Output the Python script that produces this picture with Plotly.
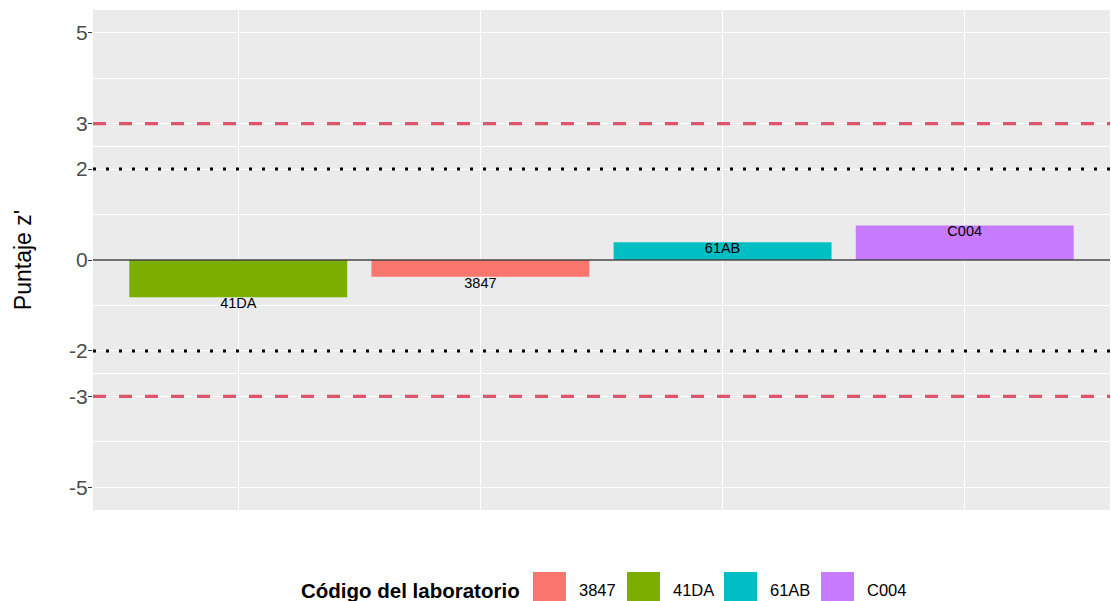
import plotly.graph_objects as go

# ---- data ----
labs = ["41DA", "3847", "61AB", "C004"]
zscores = [-0.82, -0.37, 0.39, 0.76]
legend_order = ["3847", "41DA", "61AB", "C004"]
lab_colors = {"3847": "#F8766D", "41DA": "#7CAE00", "61AB": "#00BFC4", "C004": "#C77CFF"}
y_ticks = [-5, -3, -2, 0, 2, 3, 5]
y_minor = [-4, -2.5, -1, 1, 2.5, 4]
warn_lims = [-2, 2]
action_lims = [-3, 3]
zero_line = [0]
legend_title = "Código del laboratorio"
y_title = "Puntaje z'"

# ---- layout constants ----
W, H = 1111, 601
ML, MR, MT, MB = 93, 1, 10, 91
PW, PH = W - ML - MR, H - MT - MB
FONT = "Liberation Sans, Arial, sans-serif"


def px_x(p):
    return (p - ML) / PW


def px_y(p):
    return (H - MB - p) / PH


fig = go.Figure()

fig.add_trace(go.Bar(
    x=labs, y=zscores, width=0.9,
    marker=dict(color=[lab_colors[l] for l in labs], line=dict(width=0)),
    showlegend=False, hoverinfo="x+y",
))

fig.add_trace(go.Scatter(
    x=labs, y=zscores, mode="text", text=labs,
    textposition="bottom center",
    textfont=dict(family=FONT, size=14.5, color="#000000"),
    showlegend=False, hoverinfo="skip",
))

shapes = []
for v in action_lims:
    shapes.append(dict(type="line", xref="paper", x0=0, x1=1, yref="y", y0=v, y1=v,
                       line=dict(color="#DF536B", width=3.2, dash="13px,13px"), layer="above"))
for v in warn_lims:
    shapes.append(dict(type="line", xref="paper", x0=0, x1=1, yref="y", y0=v, y1=v,
                       line=dict(color="#000000", width=3, dash="3px,10px"), layer="above"))
for v in zero_line:
    shapes.append(dict(type="line", xref="paper", x0=0, x1=1, yref="y", y0=v, y1=v,
                       line=dict(color="#444444", width=1.3), layer="above"))

# manual ggplot-style legend
annotations = []
key_left_px = [533, 627, 724, 821]
key_w, key_top, key_bot = 33, 572, 603
annotations.append(dict(xref="paper", yref="paper", x=px_x(522), y=px_y(590),
                        xanchor="right", yanchor="middle", showarrow=False,
                        text="<b>" + legend_title + "</b>",
                        font=dict(family=FONT, size=20.5, color="#000000")))
for lab, kx in zip(legend_order, key_left_px):
    shapes.append(dict(type="rect", xref="paper", yref="paper",
                       x0=px_x(kx), x1=px_x(kx + key_w), y0=px_y(key_bot), y1=px_y(key_top),
                       fillcolor=lab_colors[lab], line=dict(width=0), layer="above"))
    annotations.append(dict(xref="paper", yref="paper", x=px_x(kx + key_w + 11), y=px_y(590),
                            xanchor="left", yanchor="middle", showarrow=False, text=lab,
                            font=dict(family=FONT, size=16.5, color="#000000")))

fig.update_layout(
    width=W, height=H,
    margin=dict(l=ML, r=MR, t=MT, b=MB, pad=0),
    plot_bgcolor="#EBEBEB", paper_bgcolor="#FFFFFF",
    font=dict(family=FONT),
    shapes=shapes, annotations=annotations,
    showlegend=False, bargap=0.1,
)

fig.update_xaxes(
    type="category", categoryorder="array", categoryarray=labs,
    range=[-0.6, len(labs) - 0.4],
    showticklabels=False, ticks="", showgrid=True, gridcolor="#FFFFFF", gridwidth=1.3,
    zeroline=False, showline=False,
)

fig.update_yaxes(
    range=[-5.5, 5.5], tickmode="array", tickvals=y_ticks,
    ticktext=[str(v) for v in y_ticks],
    ticks="outside", ticklen=4, tickwidth=1.2, tickcolor="#333333",
    tickfont=dict(family=FONT, size=21, color="#4D4D4D"),
    ticklabelstandoff=-4,
    showgrid=True, gridcolor="#FFFFFF", gridwidth=1.3,
    minor=dict(tickmode="array", tickvals=y_minor, showgrid=True, gridcolor="#FFFFFF", gridwidth=0.7, ticks=""),
    zeroline=False, showline=False,
    title=dict(text=y_title, font=dict(family=FONT, size=23, color="#000000"), standoff=31),
)

fig.write_html("out.html", config={"displayModeBar": False},
               post_script="document.body.style.margin='0';document.body.style.padding='0';")
